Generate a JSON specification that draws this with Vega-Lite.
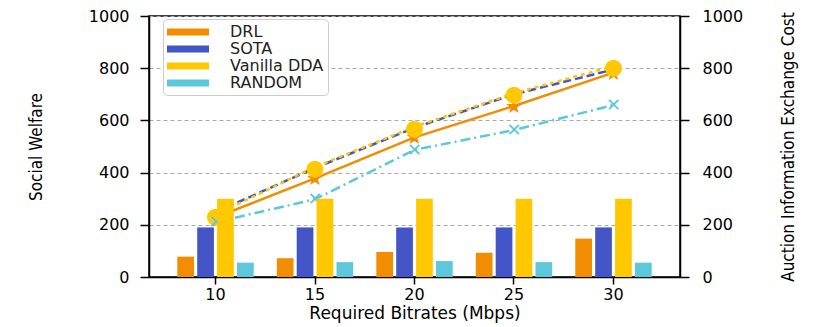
{
  "$schema": "https://vega.github.io/schema/vega-lite/v6.json",
  "width": 531,
  "height": 261,
  "autosize": {"type": "none"},
  "padding": {"left": 149, "top": 16, "right": 150, "bottom": 50},
  "background": "white",
  "config": {
    "view": {"stroke": "black", "strokeWidth": 1.5},
    "axis": {
      "domainColor": "black", "domainWidth": 1.5,
      "tickColor": "black", "tickWidth": 1.5,
      "labelFont": "DejaVu Sans", "labelColor": "black", "labelFontSize": 16,
      "titleColor": "black", "titleFontWeight": "normal"
    }
  },
  "datasets": {
    "welfare": [
      {"bitrate": 10, "method": "DRL", "value": 228},
      {"bitrate": 15, "method": "DRL", "value": 378},
      {"bitrate": 20, "method": "DRL", "value": 535},
      {"bitrate": 25, "method": "DRL", "value": 655},
      {"bitrate": 30, "method": "DRL", "value": 783},
      {"bitrate": 10, "method": "SOTA", "value": 248},
      {"bitrate": 15, "method": "SOTA", "value": 418},
      {"bitrate": 20, "method": "SOTA", "value": 572},
      {"bitrate": 25, "method": "SOTA", "value": 700},
      {"bitrate": 30, "method": "SOTA", "value": 795},
      {"bitrate": 10, "method": "Vanilla DDA", "value": 238},
      {"bitrate": 15, "method": "Vanilla DDA", "value": 422},
      {"bitrate": 20, "method": "Vanilla DDA", "value": 576},
      {"bitrate": 25, "method": "Vanilla DDA", "value": 704},
      {"bitrate": 30, "method": "Vanilla DDA", "value": 808},
      {"bitrate": 10, "method": "RANDOM", "value": 210},
      {"bitrate": 15, "method": "RANDOM", "value": 298},
      {"bitrate": 20, "method": "RANDOM", "value": 487},
      {"bitrate": 25, "method": "RANDOM", "value": 563},
      {"bitrate": 30, "method": "RANDOM", "value": 659}
    ],
    "cost": [
      {"bitrate": 10, "method": "DRL", "value": 78},
      {"bitrate": 10, "method": "SOTA", "value": 190},
      {"bitrate": 10, "method": "Vanilla DDA", "value": 300},
      {"bitrate": 10, "method": "RANDOM", "value": 55},
      {"bitrate": 15, "method": "DRL", "value": 72},
      {"bitrate": 15, "method": "SOTA", "value": 190},
      {"bitrate": 15, "method": "Vanilla DDA", "value": 300},
      {"bitrate": 15, "method": "RANDOM", "value": 57},
      {"bitrate": 20, "method": "DRL", "value": 96},
      {"bitrate": 20, "method": "SOTA", "value": 190},
      {"bitrate": 20, "method": "Vanilla DDA", "value": 300},
      {"bitrate": 20, "method": "RANDOM", "value": 61},
      {"bitrate": 25, "method": "DRL", "value": 93},
      {"bitrate": 25, "method": "SOTA", "value": 190},
      {"bitrate": 25, "method": "Vanilla DDA", "value": 300},
      {"bitrate": 25, "method": "RANDOM", "value": 57},
      {"bitrate": 30, "method": "DRL", "value": 147},
      {"bitrate": 30, "method": "SOTA", "value": 190},
      {"bitrate": 30, "method": "Vanilla DDA", "value": 300},
      {"bitrate": 30, "method": "RANDOM", "value": 55}
    ]
  },
  "encoding": {
    "x": {
      "field": "bitrate", "type": "ordinal",
      "scale": {"paddingInner": 0.2, "paddingOuter": 0.2685},
      "axis": {
        "title": "Required Bitrates (Mbps)", "labelAngle": 0, "grid": false,
        "tickSize": 7, "labelPadding": 2, "titlePadding": 3,
        "titleFont": "DejaVu Sans", "titleFontSize": 17
      }
    }
  },
  "layer": [
    {
      "data": {"name": "welfare"},
      "transform": [{"filter": "datum.method === 'DRL'"}],
      "mark": {"type": "line", "strokeWidth": 2.5, "color": "#f28c00"},
      "encoding": {
        "y": {
          "field": "value", "type": "quantitative",
          "scale": {"domain": [0, 1000], "nice": false},
          "axis": {
            "orient": "left", "title": "Social Welfare", "format": "d",
            "values": [0, 200, 400, 600, 800, 1000],
            "grid": true, "gridDash": [4, 3], "gridColor": "#aaaaaa", "gridWidth": 1,
            "tickSize": 9, "labelPadding": 11,
            "titleFont": "DejaVu Sans Condensed, Liberation Sans Narrow, DejaVu Sans",
            "titleFontSize": 17, "titlePadding": 43
          }
        }
      }
    },
    {
      "data": {"name": "welfare"},
      "transform": [{"filter": "datum.method === 'SOTA'"}],
      "mark": {"type": "line", "strokeWidth": 2.5, "color": "#4455c8", "strokeDash": [8, 4]},
      "encoding": {
        "y": {"field": "value", "type": "quantitative", "scale": {"domain": [0, 1000], "nice": false}, "axis": null}
      }
    },
    {
      "data": {"name": "welfare"},
      "transform": [{"filter": "datum.method === 'Vanilla DDA'"}],
      "mark": {"type": "line", "strokeWidth": 2.5, "color": "#ffc800", "strokeDash": [4, 4]},
      "encoding": {
        "y": {"field": "value", "type": "quantitative", "scale": {"domain": [0, 1000], "nice": false}, "axis": null}
      }
    },
    {
      "data": {"name": "welfare"},
      "transform": [{"filter": "datum.method === 'RANDOM'"}],
      "mark": {"type": "line", "strokeWidth": 2.5, "color": "#5dc8dc", "strokeDash": [10, 4, 2, 4]},
      "encoding": {
        "y": {"field": "value", "type": "quantitative", "scale": {"domain": [0, 1000], "nice": false}, "axis": null}
      }
    },
    {
      "data": {"name": "welfare"},
      "transform": [{"filter": "datum.method === 'DRL'"}],
      "mark": {"type": "text", "text": "★", "font": "DejaVu Sans", "fontSize": 20, "align": "center", "baseline": "middle", "dy": 1, "color": "#f28c00"},
      "encoding": {
        "y": {"field": "value", "type": "quantitative", "scale": {"domain": [0, 1000], "nice": false}, "axis": null}
      }
    },
    {
      "data": {"name": "welfare"},
      "transform": [{"filter": "datum.method === 'Vanilla DDA'"}],
      "mark": {"type": "text", "text": "●", "font": "DejaVu Sans", "fontSize": 22, "align": "center", "baseline": "middle", "dy": 1, "color": "#ffc800"},
      "encoding": {
        "y": {"field": "value", "type": "quantitative", "scale": {"domain": [0, 1000], "nice": false}, "axis": null}
      }
    },
    {
      "data": {"name": "welfare"},
      "transform": [{"filter": "datum.method === 'RANDOM'"}],
      "mark": {"type": "text", "text": "✕", "font": "DejaVu Sans", "fontSize": 18, "align": "center", "baseline": "middle", "dy": 1, "color": "#5dc8dc"},
      "encoding": {
        "y": {"field": "value", "type": "quantitative", "scale": {"domain": [0, 1000], "nice": false}, "axis": null}
      }
    },
    {
      "data": {"name": "cost"},
      "mark": {"type": "bar"},
      "encoding": {
        "xOffset": {
          "field": "method", "type": "nominal",
          "scale": {"domain": ["DRL", "SOTA", "Vanilla DDA", "RANDOM"], "paddingInner": 0.16, "paddingOuter": 0.08}
        },
        "y": {
          "field": "value", "type": "quantitative",
          "scale": {"domain": [0, 1000], "nice": false},
          "axis": {
            "orient": "right", "title": "Auction Information Exchange Cost", "format": "d",
            "values": [0, 200, 400, 600, 800, 1000], "grid": false,
            "tickSize": 9, "labelPadding": 13,
            "titleFont": "DejaVu Sans Condensed, Liberation Sans Narrow, DejaVu Sans",
            "titleFontSize": 17, "titleAngle": 270, "titlePadding": 55
          }
        },
        "color": {
          "field": "method", "type": "nominal",
          "scale": {
            "domain": ["DRL", "SOTA", "Vanilla DDA", "RANDOM"],
            "range": ["#f28c00", "#4455c8", "#ffc800", "#5dc8dc"]
          },
          "legend": {
            "orient": "none", "legendX": 14, "legendY": 3, "title": null,
            "symbolType": "M-1,-0.39H3.67V0.39H-1Z", "symbolSize": 324,
            "symbolStrokeWidth": 0, "symbolOpacity": 1,
            "labelFont": "DejaVu Sans", "labelFontSize": 16, "labelColor": "#222222",
            "labelOffset": 45, "rowPadding": 0, "padding": 4,
            "fillColor": "white", "strokeColor": "#cccccc", "cornerRadius": 4
          }
        }
      }
    }
  ],
  "resolve": {"scale": {"y": "independent"}}
}
